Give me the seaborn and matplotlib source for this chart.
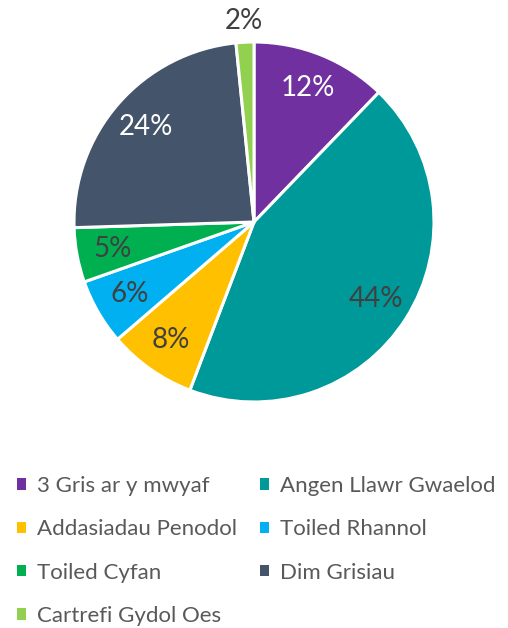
import matplotlib
matplotlib.use("Agg")
import matplotlib.pyplot as plt
from matplotlib.patches import Patch
import seaborn as sns

# Data
labels = ["3 Gris ar y mwyaf", "Angen Llawr Gwaelod", "Addasiadau Penodol",
          "Toiled Rhannol", "Toiled Cyfan", "Dim Grisiau", "Cartrefi Gydol Oes"]
values = [12.2, 43.6, 7.9, 5.9, 4.9, 23.9, 1.6]
colors = ["#7030A0", "#009999", "#FFC000", "#00B0F0", "#00B050", "#44546A", "#92D050"]
pct_colors = ["white", "#404040", "#404040", "#404040", "#404040", "white", "#404040"]

sns.set_theme(style="white")
plt.rcParams['font.family'] = ['Lato', 'DejaVu Sans']

W, H = 508, 628
fig = plt.figure(figsize=(W / 100, H / 100), dpi=100)
cx, cy, r = 254, 222, 180
ax = fig.add_axes([(cx - r) / W, (H - cy - r) / H, 2 * r / W, 2 * r / H])

wedges, texts, autotexts = ax.pie(
    values, colors=colors, startangle=90, counterclock=False,
    autopct=lambda p: f"{p:.0f}%", pctdistance=0.8,
    wedgeprops=dict(edgecolor="white", linewidth=2.2),
    textprops=dict(fontsize=20),
)
for t, c in zip(autotexts, pct_colors):
    t.set_color(c)

# small slice label sits outside the pie
last = autotexts[-1]
x, y = last.get_position()
last.set_position((x / 0.8 * 1.12, y / 0.8 * 1.12))

ax.set_xlim(-1, 1)
ax.set_ylim(-1, 1)
ax.set_aspect("equal")

# legend filled row by row
order = [0, 2, 4, 6, 1, 3, 5]
handles = [Patch(facecolor=colors[i], edgecolor="none") for i in order]
fig.legend(handles, [labels[i] for i in order], ncol=2,
           loc="upper left", bbox_to_anchor=(-3 / W, 1 - 456 / H),
           frameon=False, fontsize=16, labelcolor="#595959",
           handlelength=0.42, handleheight=0.42, handletextpad=0.5,
           labelspacing=1.05, columnspacing=1.0)

fig.savefig("out.png", dpi=100, facecolor="white")
